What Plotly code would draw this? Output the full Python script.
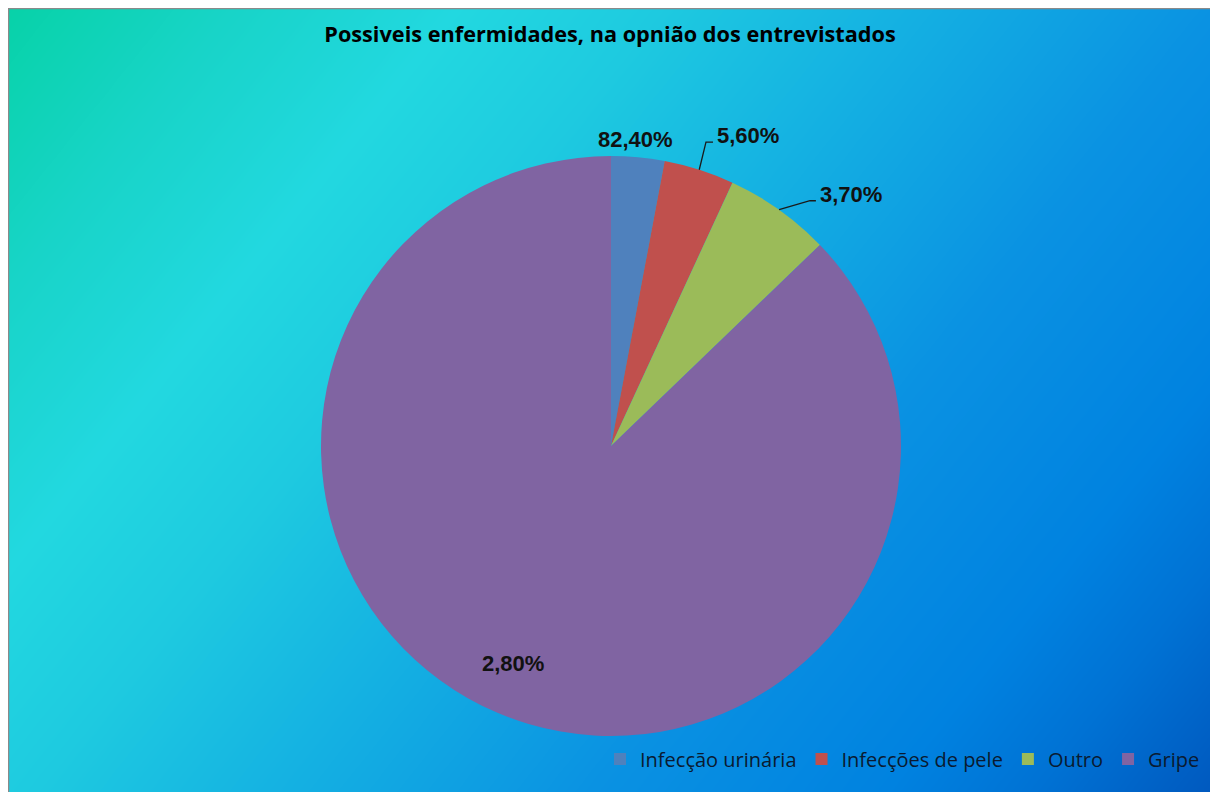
import numpy as np
import plotly.graph_objects as go

# ---- data ----
categories = ["Infecção urinária", "Infecções de pele", "Outro", "Gripe"]
values = [2.8, 3.7, 5.6, 82.4]
label_texts = ["82,40%", "5,60%", "3,70%", "2,80%"]
slice_colors = ["#4F81BD", "#C0504D", "#9BBB59", "#8064A2"]
title_text = "Possiveis enfermidades, na opnião dos entrevistados"

# ---- layout constants (figure pixels; page has an 8px body margin) ----
W, H = 1218, 792
CX, CY, R = 603.0, 438.0, 290.0          # pie centre / radius in figure px
RIGHT_EDGE = 1209.0

# label placement styling: radial factor k, angular nudge d (deg), anchor,
# optional leader elbow (k, d)
label_style = [
    dict(k=1.064, d=-0.69, anchor="center", elbow=None),
    dict(k=1.134, d=0.72, anchor="left", elbow=(1.098, -0.36)),
    dict(k=1.126, d=3.89, anchor="left", elbow=(1.089, 3.62)),
    dict(k=0.818, d=1.25, anchor="center", elbow=None),
]


def px2paper(x, y):
    return x / W, 1 - y / H


def polar(k, ang_deg):
    a = np.deg2rad(ang_deg)
    return CX + R * k * np.sin(a), CY - R * k * np.cos(a)


# ---- background gradient (styling only) ----
nx, ny = 90, 60
gx = np.linspace(0, W, nx)
gy = np.linspace(0, H, ny)
XX, YY = np.meshgrid(gx + 8, gy + 8)
T = (XX + 0.8 * YY) / (W + 0.8 * H)
grad_scale = [
    [0.0, "#06D2A6"],
    [0.13, "#18D4C8"],
    [0.25, "#22D8E0"],
    [0.36, "#1ECAE0"],
    [0.50, "#14B0E2"],
    [0.66, "#0A92E2"],
    [0.82, "#0082E0"],
    [0.90, "#0072D4"],
    [1.0, "#0058BE"],
]

fig = go.Figure()
fig.add_trace(go.Heatmap(
    x=gx, y=gy, z=T, colorscale=grad_scale, zmin=0, zmax=1,
    zsmooth="best", showscale=False, hoverinfo="skip",
))

fig.add_trace(go.Pie(
    labels=categories, values=values, text=label_texts,
    textinfo="none",
    sort=False, direction="clockwise", rotation=0,
    marker=dict(colors=slice_colors, line=dict(width=0)),
    domain=dict(x=[(CX - R) / W, (CX + R) / W], y=[1 - (CY + R) / H, 1 - (CY - R) / H]),
    hoverinfo="label+percent",
))

# ---- data labels computed from the slice angles ----
total = float(sum(values))
cum = np.concatenate([[0.0], np.cumsum(values)[:-1]])
mid_angles = [360.0 * (c + v / 2.0) / total for c, v in zip(cum, values)]

annotations = []
shapes = []
for txt, ang, st in zip(label_texts, mid_angles, label_style):
    lx, ly = polar(st["k"], ang + st["d"])
    px_, py_ = px2paper(lx, ly + 1)
    annotations.append(dict(
        x=px_, y=py_, xref="paper", yref="paper", text="<b>" + txt + "</b>",
        showarrow=False, xanchor=st["anchor"], yanchor="middle",
        font=dict(family="Liberation Sans", size=22, color="#111111"),
    ))
    if st["elbow"] is not None:
        sx, sy = polar(1.0, ang)
        ex, ey = polar(st["elbow"][0], ang + st["elbow"][1])
        fx = lx - 2
        p0 = px2paper(sx, sy)
        p1 = px2paper(ex, ey)
        p2 = px2paper(fx, ey)
        shapes.append(dict(
            type="path", xref="paper", yref="paper",
            path=f"M{p0[0]},{p0[1]} L{p1[0]},{p1[1]} L{p2[0]},{p2[1]}",
            line=dict(color="#1a1a1a", width=1.3),
        ))

# chart border
shapes.append(dict(type="rect", xref="paper", yref="paper",
                   x0=0.5 / W, x1=RIGHT_EDGE / W, y0=-0.02, y1=1 - 0.5 / H,
                   line=dict(color="#8a8a8a", width=1.5), fillcolor="rgba(0,0,0,0)"))

fig.update_layout(
    width=W, height=H,
    margin=dict(l=0, r=0, t=0, b=0),
    paper_bgcolor="white",
    plot_bgcolor="rgba(0,0,0,0)",
    xaxis=dict(domain=[0, RIGHT_EDGE / W], range=[0, RIGHT_EDGE], visible=False, fixedrange=True),
    yaxis=dict(domain=[0, 1], range=[H, 0], visible=False, fixedrange=True),
    title=dict(text="<b>" + title_text + "</b>", x=602 / W, xanchor="center",
               y=1 - 26 / H, yanchor="middle",
               font=dict(family="Open Sans", size=21.7, color="#000000")),
    legend=dict(orientation="h", x=1197 / W, xanchor="right", y=1 - 751 / H, yanchor="middle",
                font=dict(family="Open Sans", size=20, color="#0a1a30"),
                bgcolor="rgba(0,0,0,0)", traceorder="normal"),
    showlegend=True,
    annotations=annotations,
    shapes=shapes,
)

fig.write_html("out.html")
